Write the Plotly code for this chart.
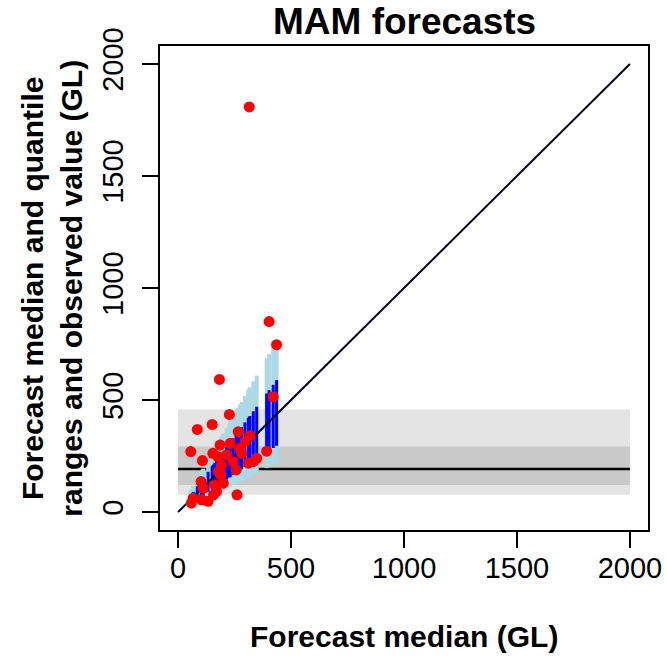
import plotly.graph_objects as go

# Forecast medians (GL) and observed values (GL)
median = [56, 59, 67, 85, 102, 105, 108, 111, 133, 151, 154, 157, 163, 170, 176, 179,
          183, 186, 189, 192, 200, 215, 227, 231, 244, 257, 261, 266, 274, 281, 296, 311,
          315, 318, 333, 348, 392, 403, 421, 436]
observed = [270, 40, 62, 369, 136, 55, 230, 107, 48, 391, 262, 77, 121, 92, 247, 181,
            592, 299, 166, 210, 129, 255, 436, 307, 225, 188, 77, 359, 284, 262, 314, 218,
            1808, 341, 225, 240, 272, 850, 514, 747]
# outer quantile range (light blue)
q_outer_lo = [28, 30, 34, 43, 51, 53, 54, 56, 67, 76, 77, 79, 82, 85, 88, 90,
              92, 93, 95, 96, 100, 108, 114, 116, 122, 129, 131, 133, 137, 141, 148, 156,
              158, 159, 167, 174, 196, 202, 211, 218]
q_outer_hi = [98, 103, 117, 149, 179, 184, 189, 194, 233, 264, 270, 275, 285, 298, 308, 313,
              320, 326, 331, 336, 350, 376, 397, 404, 427, 450, 457, 466, 480, 492, 518, 544,
              551, 557, 583, 609, 686, 705, 737, 763]
# inner quantile range (blue)
q_inner_lo = [38, 40, 46, 58, 69, 71, 73, 75, 90, 103, 105, 107, 111, 116, 120, 122,
              124, 126, 129, 131, 136, 146, 154, 157, 166, 175, 177, 181, 186, 191, 201, 211,
              214, 216, 226, 237, 267, 274, 286, 296]
q_inner_hi = [76, 80, 90, 115, 138, 142, 146, 150, 180, 204, 208, 212, 220, 230, 238, 242,
              247, 251, 255, 259, 270, 290, 306, 312, 329, 347, 352, 359, 370, 379, 400, 420,
              425, 429, 450, 470, 529, 544, 568, 589]

# climatology bands
clim_outer = [77, 458]
clim_inner = [121, 293]
clim_median = 192
band_x = [0, 2000]

tick_vals = [0, 500, 1000, 1500, 2000]
tick_text = ["0", "500", "1000", "1500", "2000"]
axis_range = [-80, 2080]

FONT = "Liberation Sans, Arial, Helvetica, sans-serif"

def segs(xs, lo, hi):
    X, Y = [], []
    for x, a, b in zip(xs, lo, hi):
        X += [x, x, None]
        Y += [a, b, None]
    return X, Y

fig = go.Figure()

# horizontal climatology median
fig.add_trace(go.Scatter(x=band_x, y=[clim_median, clim_median], mode="lines",
                         line=dict(color="black", width=2.5), hoverinfo="skip", showlegend=False))

ox, oy = segs(median, q_outer_lo, q_outer_hi)
fig.add_trace(go.Scatter(x=ox, y=oy, mode="lines", line=dict(color="#ADD8E6", width=4),
                         hoverinfo="skip", showlegend=False))
ix, iy = segs(median, q_inner_lo, q_inner_hi)
fig.add_trace(go.Scatter(x=ix, y=iy, mode="lines", line=dict(color="#0000FF", width=3),
                         hoverinfo="skip", showlegend=False))

# 1:1 line
fig.add_trace(go.Scatter(x=band_x, y=band_x, mode="lines", line=dict(color="#000022", width=2),
                         hoverinfo="skip", showlegend=False))

fig.add_trace(go.Scatter(x=median, y=observed, mode="markers",
                         marker=dict(color="#FF0000", size=11, line=dict(width=0)),
                         showlegend=False))

fig.add_shape(type="rect", xref="x", yref="y", x0=band_x[0], x1=band_x[1],
              y0=clim_outer[0], y1=clim_outer[1], fillcolor="#E4E4E4", line=dict(width=0), layer="below")
fig.add_shape(type="rect", xref="x", yref="y", x0=band_x[0], x1=band_x[1],
              y0=clim_inner[0], y1=clim_inner[1], fillcolor="#C9C9C9", line=dict(width=0), layer="below")

axis_common = dict(range=axis_range, tickvals=tick_vals, ticktext=tick_text,
                   showgrid=False, zeroline=False, showline=True, mirror=True,
                   linecolor="black", linewidth=2, ticks="outside", ticklen=16,
                   tickwidth=2, tickcolor="black", automargin=False,
                   tickfont=dict(family=FONT, size=29, color="black"))

fig.update_xaxes(**axis_common, ticklabelstandoff=-5)
fig.update_yaxes(**axis_common, tickangle=-90, ticklabelstandoff=7)

fig.update_layout(
    width=667, height=659,
    margin=dict(l=160, r=19, t=46, b=129),
    plot_bgcolor="white", paper_bgcolor="white",
    font=dict(family=FONT, color="black"),
    annotations=[
        dict(text="<b>MAM forecasts</b>", xref="paper", yref="paper", x=0.5, y=1.0496,
             showarrow=False, font=dict(size=37, family=FONT), xanchor="center", yanchor="middle"),
        dict(text="<b>Forecast median (GL)</b>", xref="paper", yref="paper", x=0.5, y=-0.221,
             showarrow=False, font=dict(size=30, family=FONT), xanchor="center", yanchor="middle"),
        dict(text="<b>Forecast median and quantile<br>ranges and observed value (GL)</b>",
             xref="paper", yref="paper", x=-0.222, y=0.5, textangle=-90,
             showarrow=False, font=dict(size=30, family=FONT), xanchor="center", yanchor="middle"),
    ],
)

fig.write_html("out.html")
